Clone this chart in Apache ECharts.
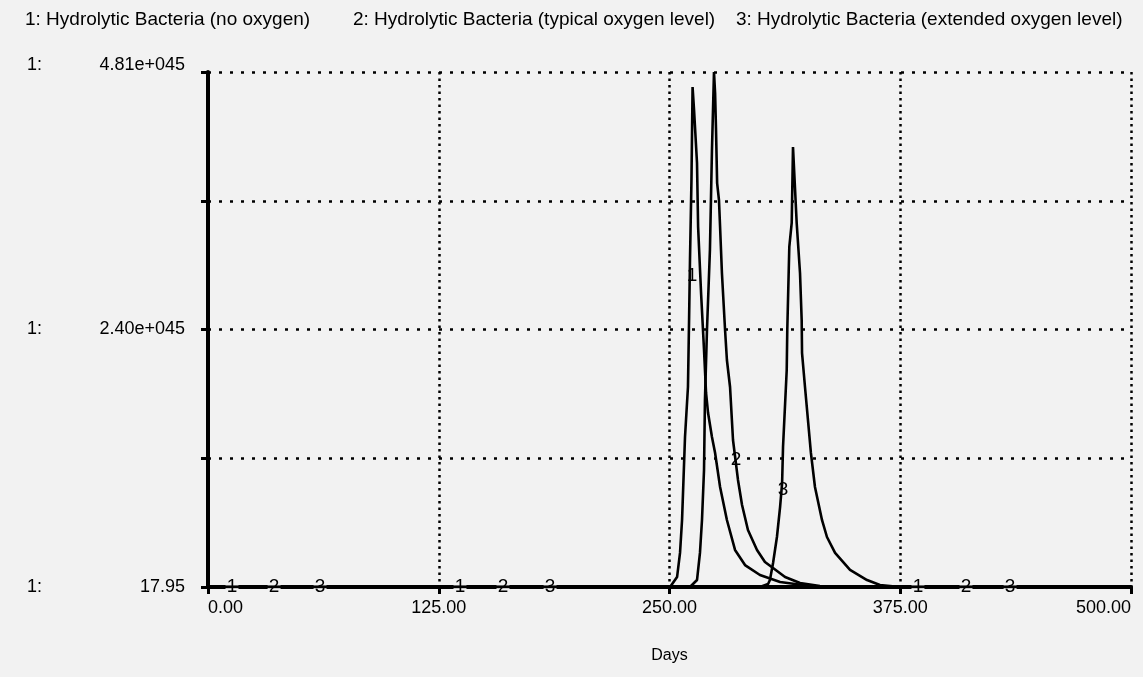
<!DOCTYPE html>
<html>
<head>
<meta charset="utf-8">
<script src="https://cdn.jsdelivr.net/npm/echarts@6/dist/echarts.min.js"></script>
<style>
html,body{margin:0;padding:0;background:#f2f2f2;}
#c{width:1143px;height:677px;}
</style>
</head>
<body>
<div id="c"></div>
<script>
// ---- data (values in units of 1e45) ----
const seriesNames = [
  '1: Hydrolytic Bacteria (no oxygen)',
  '2: Hydrolytic Bacteria (typical oxygen level)',
  '3: Hydrolytic Bacteria (extended oxygen level)'
];
const xTickLabels = ['0.00', '125.00', '250.00', '375.00', '500.00'];
const yTickLabels = ['17.95', '', '2.40e+045', '', '4.81e+045'];

const days1 = [0, 250.3, 254.1, 255.7, 256.8, 258.4, 260.0, 260.6, 261.1, 261.9, 262.5, 263.3, 264.9, 265.5, 267.1, 268.7, 269.8, 270.9, 273.0, 274.7, 277.4, 281.1, 285.5, 290.9, 299.0, 309.9, 326.1, 347.8, 500];
const vals1 = [0, 0, 0.093, 0.318, 0.626, 1.401, 1.868, 2.494, 3.054, 3.801, 4.670, 4.455, 3.960, 3.362, 2.746, 2.213, 1.812, 1.625, 1.401, 1.252, 0.934, 0.626, 0.346, 0.205, 0.112, 0.047, 0.009, 0, 0];

const days2 = [0, 261.1, 264.9, 266.5, 267.6, 268.7, 269.2, 270.3, 271.9, 273.0, 274.1, 274.7, 275.2, 275.8, 276.8, 277.4, 278.4, 280.1, 281.1, 282.8, 284.4, 287.1, 289.3, 292.5, 297.4, 301.7, 306.1, 312.6, 320.7, 331.5, 347.8, 500];
const vals2 = [0, 0, 0.065, 0.318, 0.626, 1.093, 1.747, 2.400, 3.147, 4.081, 4.810, 4.614, 4.268, 3.773, 3.614, 3.362, 2.933, 2.400, 2.120, 1.868, 1.373, 1.000, 0.766, 0.532, 0.346, 0.233, 0.177, 0.093, 0.037, 0.009, 0, 0];

const days3 = [0, 299.0, 303.4, 304.4, 306.1, 308.2, 309.9, 311.0, 311.5, 313.5, 313.8, 314.9, 316.2, 316.9, 318.9, 320.7, 321.6, 321.8, 323.4, 325.0, 326.6, 328.8, 332.6, 335.3, 339.7, 347.8, 357.0, 364.0, 374.9, 500];
const vals3 = [0, 0, 0.028, 0.065, 0.224, 0.467, 0.747, 0.971, 1.308, 2.027, 2.400, 3.176, 3.400, 4.110, 3.400, 2.933, 2.494, 2.185, 1.868, 1.560, 1.252, 0.934, 0.626, 0.467, 0.318, 0.159, 0.065, 0.019, 0, 0];

// curve-number labels placed along each curve [day, value]
const tagDays1 = [13.0, 136.5, 384.6, 262.2];
const tagVals1 = [0, 0, 0, 2.91];
const tagDays2 = [35.8, 159.8, 410.6, 286.0];
const tagVals2 = [0, 0, 0, 1.19];
const tagDays3 = [60.7, 185.3, 434.5, 311.5];
const tagVals3 = [0, 0, 0, 0.91];

const BG = '#f2f2f2';
const FONT = '"Liberation Sans", Arial, sans-serif';

function pairs(xs, ys) { return xs.map((x, i) => [x, ys[i]]); }

function lineSeries(name, xs, ys, tx, ty, num) {
  return {
    name: name,
    type: 'line',
    data: pairs(xs, ys),
    showSymbol: false,
    symbol: 'none',
    animation: false,
    z: 5,
    lineStyle: { color: '#000', width: 2.6 },
    itemStyle: { color: '#000' },
    markPoint: {
      animation: false,
      symbol: 'rect',
      symbolSize: [13, 19],
      itemStyle: { color: BG },
      label: {
        show: true, position: 'inside', formatter: num,
        color: '#000', fontSize: 19, fontFamily: FONT
      },
      data: tx.map((d, i) => ({ coord: [d, ty[i]] }))
    }
  };
}

const chart = echarts.init(document.getElementById('c'), null, { renderer: 'canvas' });

const legendBase = {
  top: 5, itemWidth: 0, itemHeight: 0, icon: 'rect',
  textStyle: { color: '#000', fontSize: 19, fontFamily: FONT }
};

chart.setOption({
  backgroundColor: BG,
  animation: false,
  legend: [
    Object.assign({}, legendBase, { left: 15, data: [seriesNames[0]] }),
    Object.assign({}, legendBase, { left: 343, data: [seriesNames[1]] }),
    Object.assign({}, legendBase, { left: 726, data: [seriesNames[2]] })
  ],
  grid: { left: 208, right: 12, top: 72, bottom: 90 },
  xAxis: {
    type: 'value', min: 0, max: 500, interval: 125,
    name: 'Days', nameLocation: 'middle', nameGap: 61,
    nameTextStyle: { color: '#000', fontSize: 16, fontFamily: FONT },
    axisLine: { show: true, onZero: false, lineStyle: { color: '#000', width: 4 } },
    axisTick: { show: true, length: 7, lineStyle: { color: '#000', width: 3 } },
    axisLabel: {
      color: '#000', fontSize: 18, fontFamily: FONT, margin: 12,
      alignMinLabel: 'left', alignMaxLabel: 'right',
      formatter: (v, i) => xTickLabels[i]
    },
    splitLine: { show: true, lineStyle: { color: '#000', width: 2.5, type: [2.5, 4] } }
  },
  yAxis: {
    type: 'value', min: 0, max: 4.81, interval: 1.2025,
    axisLine: { show: true, lineStyle: { color: '#000', width: 4 } },
    axisTick: { show: true, length: 7, lineStyle: { color: '#000', width: 3 } },
    axisLabel: {
      color: '#000', fontSize: 18, fontFamily: FONT, margin: 23,
      formatter: (v, i) => {
        const t = yTickLabels[i];
        if (!t) return '';
        if (i === yTickLabels.length - 1) return '{pt|1:}{vt|' + t + '}';
        return '{p|1:}{v|' + t + '}';
      },
      rich: {
        p: { width: 58, align: 'left', fontSize: 18, fontFamily: FONT, color: '#000' },
        v: { width: 100, align: 'right', fontSize: 18, fontFamily: FONT, color: '#000' },
        pt: { width: 58, align: 'left', fontSize: 18, fontFamily: FONT, color: '#000', padding: [0, 0, 14, 0] },
        vt: { width: 100, align: 'right', fontSize: 18, fontFamily: FONT, color: '#000', padding: [0, 0, 14, 0] }
      }
    },
    splitLine: { show: true, lineStyle: { color: '#000', width: 2.5, type: [3, 8] } }
  },
  series: [
    lineSeries(seriesNames[0], days1, vals1, tagDays1, tagVals1, '1'),
    lineSeries(seriesNames[1], days2, vals2, tagDays2, tagVals2, '2'),
    lineSeries(seriesNames[2], days3, vals3, tagDays3, tagVals3, '3')
  ]
});
</script>
</body>
</html>
